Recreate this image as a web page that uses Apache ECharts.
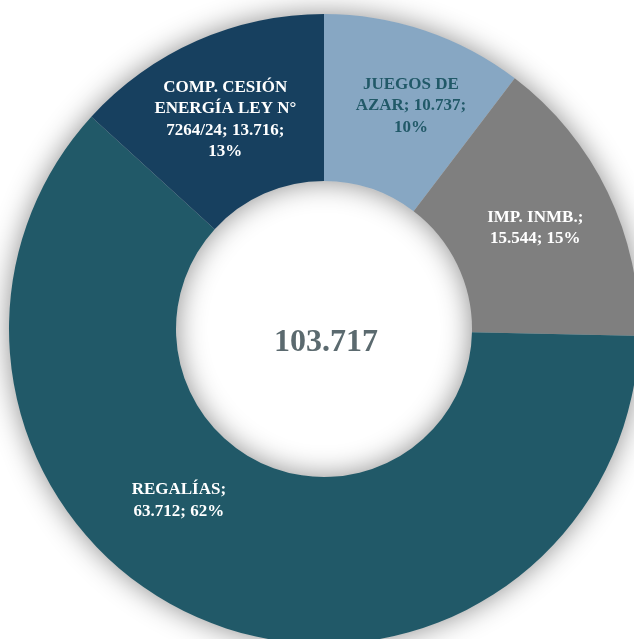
<!DOCTYPE html>
<html>
<head>
<meta charset="utf-8">
<script src="https://cdn.jsdelivr.net/npm/echarts@6/dist/echarts.min.js"></script>
<style>
html,body{margin:0;padding:0;background:#fff;}
#c{width:634px;height:639px;}
</style>
</head>
<body>
<div id="c"></div>
<script>
const categories = ['JUEGOS DE AZAR', 'IMP. INMB.', 'REGALÍAS', 'COMP. CESIÓN ENERGÍA LEY N° 7264/24'];
const values = [10737, 15544, 63712, 13716];
const percents = [10, 15, 62, 13];
const totalLabel = '103.717';

const colors = ['#87A7C3', '#7F7F7F', '#215968', '#17405F'];
const labelColors = ['#215968', '#ffffff', '#ffffff', '#ffffff'];
const lineWords = [[2, 2, 1], [2, 2], [1, 2], [2, 3, 2, 1]];
const labelShift = [[12, -1], [0, 1], [-58, -46], [-4, 5]];

function fmtNum(v) {
  return String(v).replace(/\B(?=(\d{3})+(?!\d))/g, '.');
}
function labelText(i) {
  const words = (categories[i] + '; ' + fmtNum(values[i]) + '; ' + percents[i] + '%').split(' ');
  const lines = [];
  let k = 0;
  lineWords[i].forEach(n => { lines.push(words.slice(k, k + n).join(' ')); k += n; });
  return lines.join('\n');
}

const chart = echarts.init(document.getElementById('c'), null, {renderer: 'canvas'});
const total = values.reduce((a, b) => a + b, 0);
chart.setOption({
  backgroundColor: '#ffffff',
  animation: false,
  series: [
    {
      type: 'pie',
      silent: true,
      z: 1,
      center: [324, 329],
      radius: [148, 315],
      startAngle: 90,
      label: {show: false},
      labelLine: {show: false},
      itemStyle: {color: '#cccccc', shadowBlur: 28, shadowColor: 'rgba(0,0,0,0.45)'},
      data: [{name: 'total', value: total}]
    },
    {
      type: 'pie',
      z: 2,
      center: [324, 329],
      radius: [148, 315],
      startAngle: 90,
      clockwise: true,
      avoidLabelOverlap: false,
      labelLine: {show: false},
      label: {
        show: true,
        position: 'inside',
        fontFamily: 'Liberation Serif',
        fontWeight: 'bold',
        fontSize: 17,
        lineHeight: 21.5,
        align: 'center',
        formatter: p => labelText(p.dataIndex)
      },
      labelLayout: p => ({dx: labelShift[p.dataIndex][0], dy: labelShift[p.dataIndex][1]}),
      itemStyle: {borderWidth: 0},
      data: categories.map((c, i) => ({
        name: c,
        value: values[i],
        itemStyle: {color: colors[i]},
        label: {color: labelColors[i]}
      }))
    }
  ],
  graphic: [{
    type: 'text',
    x: 326,
    y: 343,
    style: {
      text: totalLabel,
      x: 0, y: 0,
      align: 'center',
      verticalAlign: 'middle',
      fontFamily: 'Liberation Serif',
      fontWeight: 'bold',
      fontSize: 32,
      fill: '#5B6A6F'
    }
  }]
});
</script>
</body>
</html>
